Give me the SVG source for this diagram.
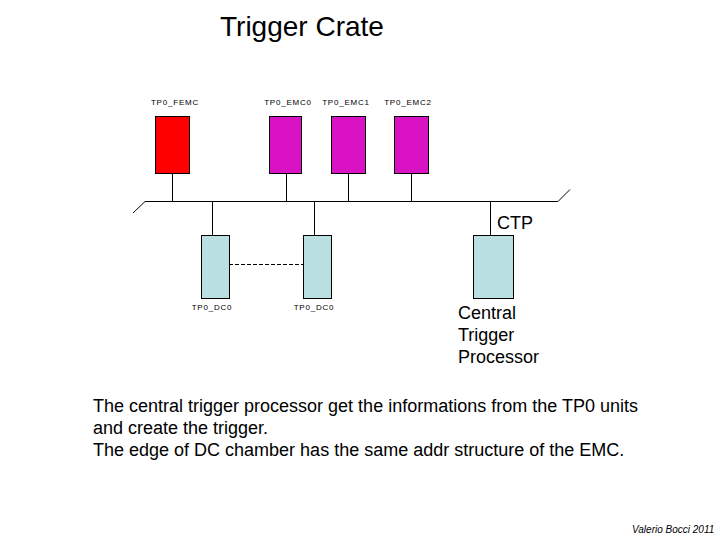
<svg xmlns="http://www.w3.org/2000/svg" width="720" height="540" viewBox="0 0 720 540">
<style>
.box{stroke:#000;stroke-width:1}
.femc{fill:#ff0000}
.emc{fill:#d912c4}
.dc{fill:#b9dfe1}
.ln{stroke:#000;stroke-width:1;fill:none}
.small{font-family:"Liberation Sans",Arial,sans-serif;font-size:8px;letter-spacing:0.8px;text-anchor:middle;fill:#000}
.big{font-family:"Liberation Sans",Arial,sans-serif;font-size:18px;fill:#000}
</style>
<rect width="720" height="540" fill="#fff"/>
<text x="220" y="36" font-family="Liberation Sans, Arial, sans-serif" font-size="28" fill="#000">Trigger Crate</text>
<g id="connectors">
<path class="ln" d="M133,213 L145,201.5 L558,201.5 L570,189.5"/>
<line class="ln" x1="172.5" y1="173" x2="172.5" y2="201.5"/>
<line class="ln" x1="286.5" y1="173" x2="286.5" y2="201.5"/>
<line class="ln" x1="348.5" y1="173" x2="348.5" y2="201.5"/>
<line class="ln" x1="411.5" y1="173" x2="411.5" y2="201.5"/>
<line class="ln" x1="212.5" y1="201.5" x2="212.5" y2="235"/>
<line class="ln" x1="314.5" y1="201.5" x2="314.5" y2="235"/>
<line class="ln" x1="490.5" y1="201.5" x2="490.5" y2="235"/>
<line class="ln" x1="229" y1="264.5" x2="303" y2="264.5" stroke-dasharray="4,2"/>
</g>
<g id="tp0_femc">
<rect class="box femc" x="155.5" y="116.5" width="34" height="57"/>
<text class="small" x="175" y="105">TP0_FEMC</text>
</g>
<g id="tp0_emc0">
<rect class="box emc" x="269.5" y="116.5" width="32" height="57"/>
<text class="small" x="288" y="105">TP0_EMC0</text>
</g>
<g id="tp0_emc1">
<rect class="box emc" x="331.5" y="116.5" width="34" height="57"/>
<text class="small" x="346" y="105">TP0_EMC1</text>
</g>
<g id="tp0_emc2">
<rect class="box emc" x="394.5" y="116.5" width="34" height="57"/>
<text class="small" x="408" y="105">TP0_EMC2</text>
</g>
<g id="tp0_dc0_a">
<rect class="box dc" x="201.5" y="235.5" width="28" height="63"/>
<text class="small" x="212" y="310">TP0_DC0</text>
</g>
<g id="tp0_dc0_b">
<rect class="box dc" x="303.5" y="235.5" width="28" height="63"/>
<text class="small" x="314" y="310">TP0_DC0</text>
</g>
<g id="ctp">
<rect class="box dc" x="473.5" y="235.5" width="40" height="63"/>
<text class="big" x="497" y="229">CTP</text>
<text class="big" x="458" y="319">Central</text>
<text class="big" x="458" y="341">Trigger</text>
<text class="big" x="458" y="363">Processor</text>
</g>
<text class="big" x="93" y="412">The central trigger processor get the informations from the TP0 units</text>
<text class="big" x="93" y="434">and create the trigger.</text>
<text class="big" x="93" y="456">The edge of DC chamber has the same addr structure of the EMC.</text>
<text x="632" y="533" font-family="Liberation Sans, Arial, sans-serif" font-size="10" font-style="italic" fill="#000">Valerio Bocci 2011</text>
</svg>
